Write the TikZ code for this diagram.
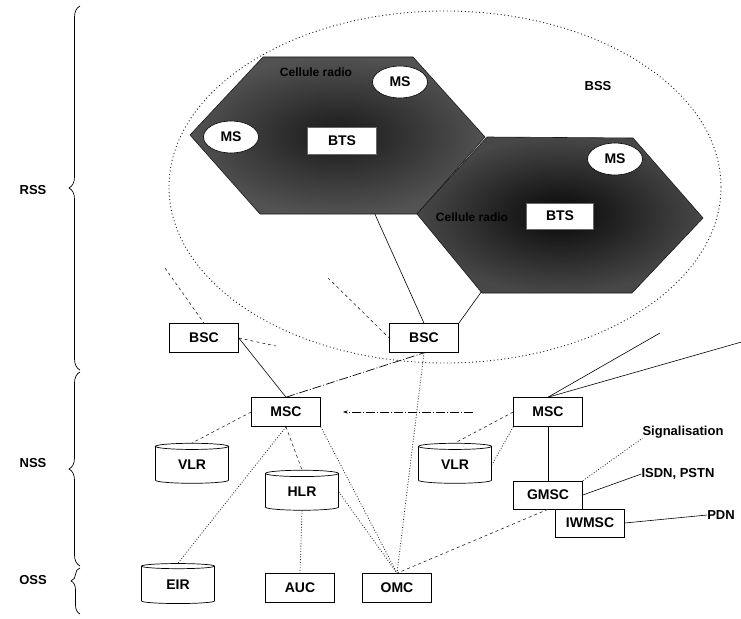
\documentclass[tikz,border=0pt]{standalone}
\usepackage{fontspec}
\setmainfont{Liberation Sans}
\usetikzlibrary{shapes.geometric,decorations.pathreplacing,arrows.meta}
\pgfdeclarelayer{paper}
\pgfdeclarelayer{bg}
\pgfdeclarelayer{hex}
\pgfsetlayers{paper,bg,hex,main}
\begin{document}
\begin{tikzpicture}[x=1pt,y=-1pt,
  lbfont/.style={font=\fontsize{14}{16}\selectfont\bfseries},
  box/.style={draw, line width=0.6pt, fill=white, minimum width=69pt, minimum height=29pt, inner sep=0pt, lbfont},
  db/.style={cylinder, shape border rotate=90, draw, line width=0.7pt, fill=white, aspect=0.22, minimum width=73pt, minimum height=40pt, inner sep=0pt, lbfont},
  msnode/.style={ellipse, draw, line width=0.6pt, fill=white, minimum width=55pt, minimum height=32pt, inner sep=0pt, lbfont},
  txt/.style={inner sep=0pt, font=\fontsize{13}{15}\selectfont\bfseries},
  cell/.style={inner sep=0pt, text=black, font=\fontsize{12}{14}\selectfont\bfseries},
  sol/.style={line width=0.6pt},
  dotl/.style={line width=0.8pt, black!85, dash pattern=on 0.9pt off 1.8pt},
  elld/.style={line width=0.9pt, black!85, dash pattern=on 1pt off 2.6pt},
  dsh/.style={line width=0.6pt, black!85, dash pattern=on 3pt off 3pt},
  ldsh/.style={line width=0.7pt, dash pattern=on 9pt off 2pt on 1pt off 2pt},
  hexa/.style={draw=black!90, line width=0.6pt},
  brc/.style={decorate, decoration={brace, amplitude=11pt}, line width=0.7pt}
]
\begin{pgfonlayer}{paper}
\fill[white] (0,0) rectangle (741,618);
\end{pgfonlayer}
\useasboundingbox (0,0) rectangle (741,618);

% BSS ellipse
\draw[elld] (445,187) ellipse [x radius=276, y radius=176];
\node[txt] (bss) at (598,86) {BSS};

% hexagons
\begin{pgfonlayer}{hex}
\shade[hexa, inner color=black!90, outer color=black!68]
  (263,57) -- (413,57) -- (485,137) -- (417,214) -- (260,214) -- (190,135) -- cycle;
\shade[hexa, inner color=black!97, outer color=black!72]
  (487,137) -- (633,138) -- (703,218) -- (632,293) -- (482,293) -- (417,214) -- cycle;
\end{pgfonlayer}

\node[cell] (cell1) at (316,72) {Cellule radio};
\node[cell] (cell2) at (472,217) {Cellule radio};

\node[msnode] (ms1) at (400,82) {MS};
\node[msnode] (ms2) at (231,137) {MS};
\node[msnode] (ms3) at (615,159) {MS};
\node[box, draw=black!60, minimum height=27pt] (bts1) at (342,141) {BTS};
\node[box, draw=black!60, minimum width=67pt, minimum height=26pt] (bts2) at (560,216) {BTS};

% RSS / NSS / OSS
\node[txt] (rss) at (33,190) {RSS};
\node[txt] (nss) at (33,463) {NSS};
\node[txt] (oss) at (33,580) {OSS};
\draw[brc] (80,370) -- (80,6);
\draw[brc] (80,566) -- (80,372);
\draw[brc, decoration={brace, amplitude=9pt, aspect=0.72}] (80,614) -- (80,568);

% network nodes
\node[box] (bscl) at (204,338) {BSC};
\node[box] (bscr) at (424,338) {BSC};
\node[box] (mscl) at (286,412) {MSC};
\node[box] (mscr) at (548,412) {MSC};
\node[db] (vlrl) at (192,465) {VLR};
\node[db] (hlr) at (302,492) {HLR};
\node[db] (vlrr) at (455,465) {VLR};
\node[db] (eir) at (178,585) {EIR};
\node[box] (auc) at (300,588) {AUC};
\node[box] (omc) at (397,588) {OMC};
\node[box, minimum height=28pt] (gmsc) at (548,495) {GMSC};
\node[box, minimum height=28pt] (iwmsc) at (590,523) {IWMSC};

\node[txt] (sig) at (683,432) {Signalisation};
\node[txt] (isdn) at (678,474) {ISDN, PSTN};
\node[txt] (pdn) at (721,515) {PDN};

\coordinate (c1) at (165,268);
\coordinate (c2) at (328,278);
\coordinate (c3) at (276,346);
\coordinate (c4) at (660,333);
\coordinate (c5) at (745,341);

% BTS -> BSC
\begin{pgfonlayer}{bg}
\draw[sol] (bts1) -- (bscr.north);
\draw[sol] (bts2.south west) -- (bscr.north east);
\end{pgfonlayer}

% connectors
\draw[dsh] (c1) -- (bscl.north);
\draw[dsh] (c2) -- (bscr.west);
\draw[dsh] (bscl.east) -- (c3);
\draw[sol] (bscl.east) -- (mscl.north);
\draw[ldsh] (mscl.north) -- (bscr.south);
\draw[ldsh, -{Stealth[length=5pt,width=3pt]}, shorten <=40pt, shorten >=22pt] (mscr.west) -- (mscl.east);
\draw[dotl] (bscr.south) -- (omc.north);
\draw[sol] (mscr.north) -- (c4);
\draw[sol] (mscr.north) -- (c5);
\draw[dsh] (mscl.west) -- (vlrl.north);
\draw[dsh] (mscl.south) -- (hlr.north);
\draw[dotl] (mscl.south) -- (eir.north);
\draw[dotl] (mscl.south east) -- (omc.north);
\draw[dotl] (hlr.east) -- (omc.north);
\draw[dotl] (hlr.south) -- (auc.north);
\draw[dsh] (mscr.west) -- (vlrr.north);
\draw[dotl] (mscr.south west) -- (vlrr.east);
\draw[sol] (mscr.south) -- (gmsc.north);
\draw[dsh] (gmsc.south) -- (omc.north);
\draw[dotl] (gmsc.north east) -- (sig.south west);
\draw[sol] (gmsc.east) -- (isdn.west);
\draw[sol] (iwmsc.east) -- (pdn.west);
\end{tikzpicture}
\end{document}
